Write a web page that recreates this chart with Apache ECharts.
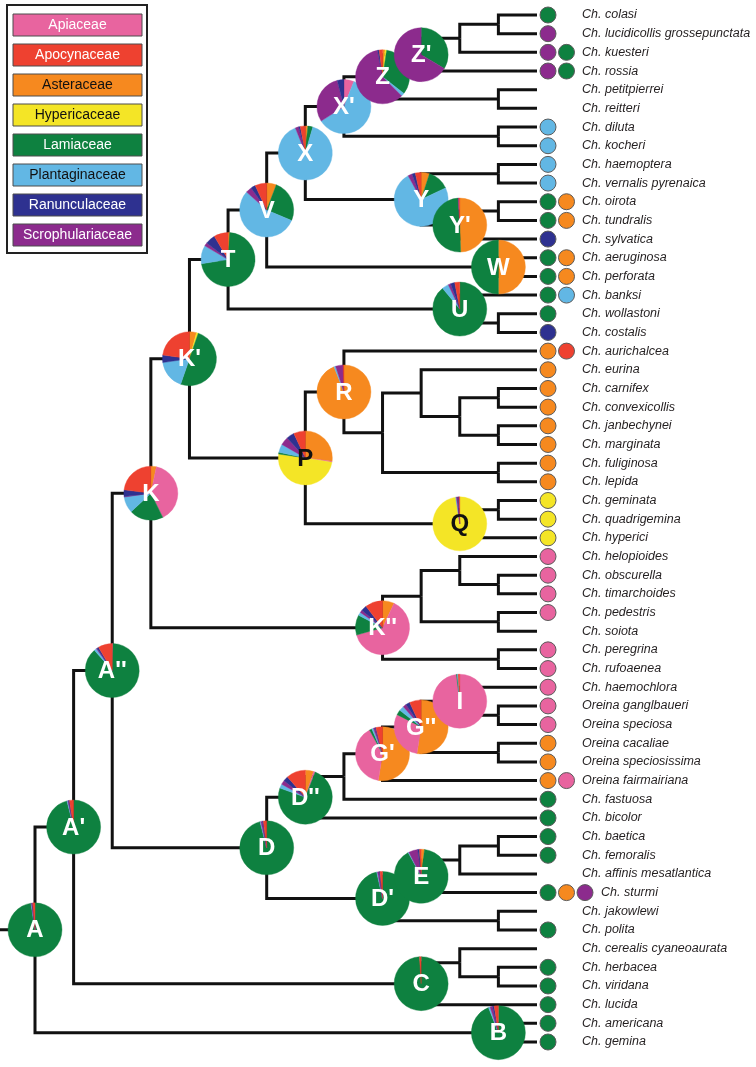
<!DOCTYPE html>
<html>
<head>
<meta charset="utf-8">
<script src="https://cdn.jsdelivr.net/npm/echarts@6/dist/echarts.min.js"></script>
<style>
  html, body { margin: 0; padding: 0; background: #fff; }
  #chart { width: 756px; height: 1067px; }
</style>
</head>
<body>
<div id="chart"></div>
<script>
const families = ['Apiaceae', 'Apocynaceae', 'Asteraceae', 'Hypericaceae', 'Lamiaceae', 'Plantaginaceae', 'Ranunculaceae', 'Scrophulariaceae']
const familyColors = ['#e8649f', '#ee4130', '#f6891f', '#f4e526', '#0e8140', '#62b7e4', '#2e3190', '#8c2b8d']
const legendTextColors = ['#fff', '#fff', '#111', '#111', '#fff', '#111', '#fff', '#fff']
// slices are drawn clockwise from 12 o'clock in this family order
const sliceOrder = [2, 0, 3, 4, 5, 7, 6, 1]

const taxa = [
  'Ch. colasi', 'Ch. lucidicollis grossepunctata', 'Ch. kuesteri', 'Ch. rossia', 'Ch. petitpierrei',
  'Ch. reitteri', 'Ch. diluta', 'Ch. kocheri', 'Ch. haemoptera', 'Ch. vernalis pyrenaica',
  'Ch. oirota', 'Ch. tundralis', 'Ch. sylvatica', 'Ch. aeruginosa', 'Ch. perforata',
  'Ch. banksi', 'Ch. wollastoni', 'Ch. costalis', 'Ch. aurichalcea', 'Ch. eurina',
  'Ch. carnifex', 'Ch. convexicollis', 'Ch. janbechynei', 'Ch. marginata', 'Ch. fuliginosa',
  'Ch. lepida', 'Ch. geminata', 'Ch. quadrigemina', 'Ch. hyperici', 'Ch. helopioides',
  'Ch. obscurella', 'Ch. timarchoides', 'Ch. pedestris', 'Ch. soiota', 'Ch. peregrina',
  'Ch. rufoaenea', 'Ch. haemochlora', 'Oreina ganglbaueri', 'Oreina speciosa', 'Oreina cacaliae',
  'Oreina speciosissima', 'Oreina fairmairiana', 'Ch. fastuosa', 'Ch. bicolor', 'Ch. baetica',
  'Ch. femoralis', 'Ch. affinis mesatlantica', 'Ch. sturmi', 'Ch. jakowlewi', 'Ch. polita',
  'Ch. cerealis cyaneoaurata', 'Ch. herbacea', 'Ch. viridana', 'Ch. lucida', 'Ch. americana',
  'Ch. gemina'
]

// host plant families of each taxon (index into families)
const taxonHosts = [
  [4], [7], [7, 4], [7, 4], [], [], [5], [5], [5], [5],
  [4, 2], [4, 2], [6], [4, 2], [4, 2], [4, 5], [4], [6], [2, 1], [2],
  [2], [2], [2], [2], [2], [2], [3], [3], [3], [0],
  [0], [0], [0], [], [0], [0], [0], [0], [0], [2],
  [2], [2, 0], [4], [4], [4], [4], [], [4, 2, 7], [], [4],
  [], [4], [4], [4], [4], [4]
]

// topology: [node label, child, child]; numbers are taxa indices
const tree = ['A',
  ["A'",
    ["A''",
      ['K',
        ["K'",
          ['T',
            ['V',
              ['X',
                ["X'", ['Z', ["Z'", ['', ['', 0, 1], 2], 3], ['', 4, 5]], ['', 6, 7]],
                ['Y', ['', 8, 9], ["Y'", ['', 10, 11], 12]]
              ],
              ['W', 13, 14]
            ],
            ['U', 15, ['', 16, 17]]
          ],
          ['P',
            ['R', 18, ['', ['', 19, ['', ['', 20, 21], ['', 22, 23]]], ['', 24, 25]]],
            ['Q', ['', 26, 27], 28]
          ]
        ],
        ["K''", ['', ['', 29, ['', 30, 31]], ['', 32, 33]], ['', 34, 35]]
      ],
      ['D',
        ["D''", ['', ["G'", ["G''", ['I', 36, ['', 37, 38]], ['', 39, 40]], 41], 42], 43],
        ["D'", ['E', ['', ['', 44, 45], 46], 47], ['', 48, 49]]
      ]
    ],
    ['C', ['', 50, ['', 51, 52]], 53]
  ],
  ['B', 54, 55]
]

// reconstructed host share (%) at each labelled node, in families order
const nodeNames = ['A', "A'", "A''", 'K', "K'", 'T', 'V', 'X', "X'", 'Z', "Z'", 'Y', "Y'", 'W', 'U', 'P', 'R', 'Q', "K''", 'D', "D''", "G'", "G''", 'I', "D'", 'E', 'C', 'B']
const nodeShares = [
  [0, 1.4, 0, 0, 97.6, 0.3, 0.3, 0.4],
  [0, 2.5, 0, 0, 96, 0.5, 0.5, 0.5],
  [0.5, 8.5, 0, 0, 88, 1.5, 1, 0.5],
  [39.4, 23, 3.3, 0, 20.3, 9.7, 4, 0.3],
  [0, 22.8, 4.2, 1.1, 50, 17.4, 4.5, 0],
  [0, 8.5, 1, 0, 71.5, 11, 6, 2],
  [0, 7, 5.8, 0, 25.5, 55.3, 2.8, 3.6],
  [0, 3, 1.5, 0, 3, 89.5, 1, 2],
  [6, 0, 0, 0, 0, 60, 4, 30],
  [0, 2, 1.5, 1, 33, 2, 1, 59.5],
  [0, 0, 0, 0, 33.6, 0, 0, 66.4],
  [0, 3.5, 5, 0, 13, 74, 2, 2.5],
  [0, 0.5, 49.5, 0, 49.5, 0, 0, 0.5],
  [0, 0, 50, 0, 50, 0, 0, 0],
  [0, 3, 0, 0, 89, 4, 2.5, 1.5],
  [0.5, 7, 27, 49.7, 1, 5, 4.7, 5],
  [0, 0.5, 94, 0, 0, 1, 0, 4.5],
  [0, 0.5, 0, 97.5, 0, 0.5, 0.5, 1],
  [63.6, 10.5, 7, 0, 12, 2, 3.4, 1.5],
  [0, 2, 0, 0, 96, 0.5, 0.5, 1],
  [1, 11.5, 5, 0, 74.5, 2.5, 3, 2.5],
  [39.5, 4, 52.5, 0, 1.5, 1, 0.5, 1],
  [30, 7, 52.5, 0, 3, 3, 2.5, 2],
  [98, 1, 0, 0, 0.5, 0.5, 0, 0],
  [0, 1.5, 0, 0, 96.5, 0.5, 0.5, 1],
  [0, 1, 2, 0, 90, 0.5, 1, 5.5],
  [0, 1, 0, 0, 99, 0, 0, 0],
  [0, 2.5, 0, 0, 94, 1, 1, 1.5]
]

const tipLevel = 13
const edges = []
const pies = []

// x = tree level (one less than the closest child), y = mean of the children
function layout(node) {
  if (typeof node === 'number') return { x: tipLevel, y: node }
  let slot = -1
  if (node[0]) { slot = pies.length; pies.push(null) }
  const kids = node.slice(1).map(layout)
  const x = Math.min(...kids.map(k => k.x)) - 1
  const y = kids.reduce((s, k) => s + k.y, 0) / kids.length
  kids.forEach(k => edges.push([x, y, x, k.y, k.x, k.y]))
  if (slot >= 0) pies[slot] = { name: node[0], value: [x, y] }
  return { x, y }
}
const root = layout(tree)
edges.push([root.x - 1, root.y, root.x - 1, root.y, root.x, root.y])

const dots = []
taxonHosts.forEach((hosts, i) => {
  hosts.forEach((f, k) => {
    dots.push({
      value: [tipLevel, i],
      symbolOffset: [11 + k * 18.5, 0],
      itemStyle: { color: familyColors[f] }
    })
  })
})

const chart = echarts.init(document.getElementById('chart'))

const legendItems = families.map((f, i) => ({
  type: 'group',
  children: [
    {
      type: 'rect',
      shape: { x: 13, y: 14 + i * 30, width: 129, height: 22 },
      style: { fill: familyColors[i], stroke: '#4d4d4d', lineWidth: 1 }
    },
    {
      type: 'text',
      style: {
        text: f, x: 77.5, y: 25.5 + i * 30, align: 'center', verticalAlign: 'middle',
        fill: legendTextColors[i], font: '14px "Liberation Sans", Arial, sans-serif'
      }
    }
  ]
}))

chart.setOption({
  animation: false,
  grid: { left: 35, right: 219, top: 15, bottom: 25 },
  xAxis: { type: 'value', min: 0, max: tipLevel, show: false },
  yAxis: { type: 'value', min: 0, max: taxa.length - 1, inverse: true, show: false },
  graphic: [
    {
      type: 'rect',
      shape: { x: 7, y: 5, width: 140, height: 248 },
      style: { fill: '#fff', stroke: '#222', lineWidth: 2 }
    }
  ].concat(legendItems),
  series: [
    {
      type: 'custom',
      clip: false,
      z: 1,
      data: edges,
      renderItem(params, api) {
        const p1 = api.coord([api.value(0), api.value(1)])
        const p2 = api.coord([api.value(2), api.value(3)])
        const p3 = api.coord([api.value(4), api.value(5)])
        return {
          type: 'polyline',
          shape: { points: [p1, p2, p3] },
          style: { stroke: '#111', lineWidth: 3, fill: null, lineJoin: 'miter', lineCap: 'butt' }
        }
      }
    },
    {
      type: 'custom',
      clip: false,
      z: 2,
      data: pies,
      renderItem(params, api) {
        const c = api.coord([api.value(0), api.value(1)])
        const item = pies[params.dataIndex]
        const shares = nodeShares[nodeNames.indexOf(item.name)]
        const total = shares.reduce((s, v) => s + v, 0)
        const children = []
        let a = -Math.PI / 2
        sliceOrder.forEach(f => {
          if (!shares[f]) return
          const b = a + shares[f] / total * Math.PI * 2
          children.push({
            type: 'sector',
            shape: { cx: c[0], cy: c[1], r: 27, r0: 0, startAngle: a, endAngle: b, clockwise: true },
            style: { fill: familyColors[f], stroke: familyColors[f], lineWidth: 0.4 }
          })
          a = b
        })
        const dark = item.name === 'P' || item.name === 'Q'
        children.push({
          type: 'text',
          style: {
            text: item.name, x: c[0], y: c[1] + 1, align: 'center', verticalAlign: 'middle',
            fill: dark ? '#111' : '#fff', font: 'bold 24px "Liberation Sans", Arial, sans-serif'
          }
        })
        return { type: 'group', children }
      }
    },
    {
      type: 'scatter',
      z: 3,
      symbol: 'circle',
      symbolSize: 16,
      itemStyle: { borderColor: '#5a5a5a', borderWidth: 1, opacity: 1 },
      data: dots
    },
    {
      type: 'custom',
      clip: false,
      z: 3,
      data: taxa.map((t, i) => [tipLevel, i]),
      renderItem(params, api) {
        const c = api.coord([api.value(0), api.value(1)])
        const n = Math.max(2, taxonHosts[params.dataIndex].length)
        return {
          type: 'text',
          style: {
            text: taxa[params.dataIndex], x: c[0] + 7 + n * 19, y: c[1],
            align: 'left', verticalAlign: 'middle', fill: '#231f20',
            font: 'italic 12.5px "Liberation Sans", Arial, sans-serif'
          }
        }
      }
    }
  ]
})
</script>
</body>
</html>
